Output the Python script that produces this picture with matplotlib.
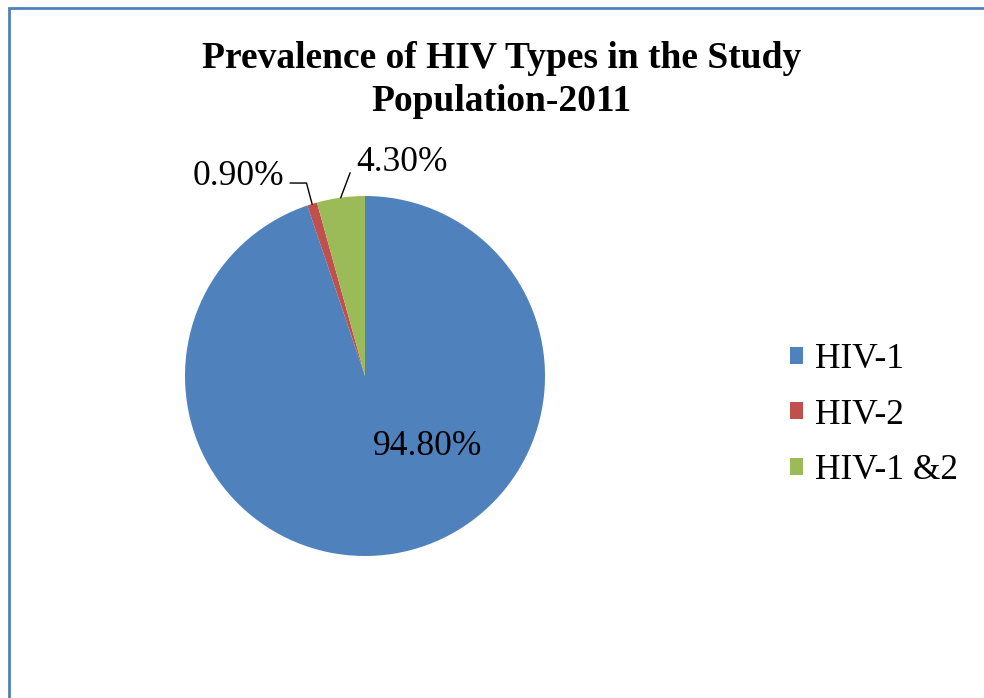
import matplotlib
matplotlib.use("Agg")
import matplotlib.pyplot as plt
from matplotlib.patches import Rectangle, Patch
import numpy as np

categories = ["HIV-1", "HIV-2", "HIV-1 &2"]
values = [94.8, 0.9, 4.3]
value_labels = ["94.80%", "0.90%", "4.30%"]
colors = ["#4F81BD", "#C0504D", "#9BBB59"]
title = "Prevalence of HIV Types in the Study\nPopulation-2011"

plt.rcParams['font.family'] = ['Liberation Serif', 'DejaVu Serif']

W, H = 984, 698
fig = plt.figure(figsize=(W/100, H/100), dpi=100)
fig.patch.set_facecolor('white')

# outer chart frame (left/top visible, right/bottom cropped)
fig.patches.append(Rectangle((9/W, -0.1), 1.2, (H-8)/H + 0.1, transform=fig.transFigure,
                             fill=False, edgecolor="#4F81BD", linewidth=2.0))

fig.text(502/W, 1 - 80/H, title, ha='center', va='center', fontsize=27,
         fontweight='bold', linespacing=1.3)

cx, cy, r = 365, 376, 180
ax = fig.add_axes([(cx - r)/W, (H - cy - r)/H, 2*r/W, 2*r/H])
wedges, _ = ax.pie(values, colors=colors, startangle=90, counterclock=False,
                   radius=1.0, wedgeprops=dict(linewidth=0))
ax.set_xlim(-1, 1)
ax.set_ylim(-1, 1)
ax.set_aspect('equal')
ax.axis('off')

# data labels
fs = 25.5
ax.text(0.345, -0.39, value_labels[0], ha='center', va='center', fontsize=fs)

def mid_point(w):
    a = np.deg2rad((w.theta1 + w.theta2) / 2)
    return np.cos(a) * w.r, np.sin(a) * w.r

x1, y1 = mid_point(wedges[1])
ax.text(-0.705, 1.11, value_labels[1], ha='center', va='center', fontsize=fs, clip_on=False)
ax.plot([-0.415, -0.325, x1], [1.072, 1.072, y1], color='black', lw=1.0, clip_on=False)

x2, y2 = mid_point(wedges[2])
ax.text(0.205, 1.185, value_labels[2], ha='center', va='center', fontsize=fs, clip_on=False)
ax.plot([-0.083, x2], [1.128, y2], color='black', lw=1.0, clip_on=False)

handles = [Patch(facecolor=c, edgecolor='none') for c in colors]
fig.legend(handles, categories, loc='center left', bbox_to_anchor=(790/W, 1 - 415/H),
           frameon=False, fontsize=25.5, handlelength=0.37, handleheight=0.37,
           handletextpad=0.33, labelspacing=0.64, borderpad=0, borderaxespad=0)

fig.savefig("out.png", dpi=100, facecolor='white')
